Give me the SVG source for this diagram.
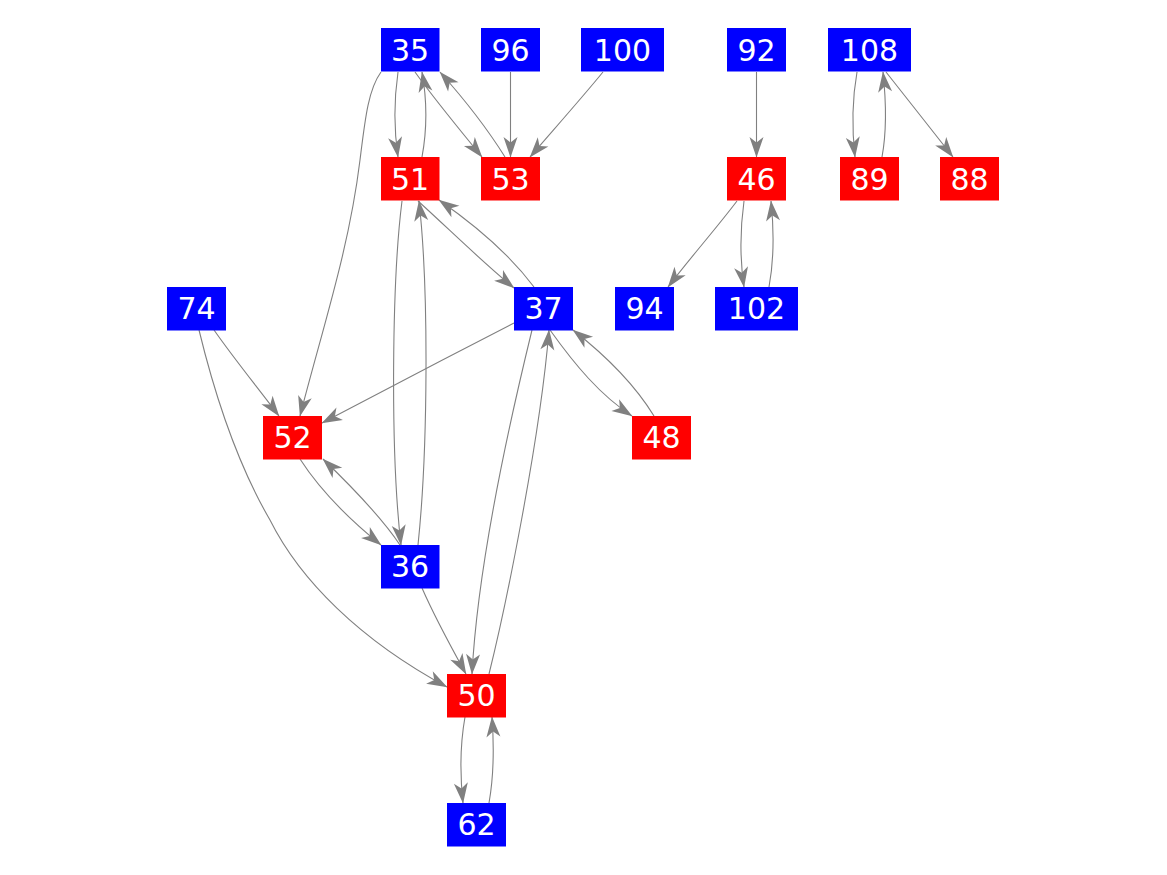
<svg xmlns="http://www.w3.org/2000/svg" width="1167" height="875" viewBox="0 0 1167 875">
<style>
.b{fill:#0000ff}
.r{fill:#ff0000}
text{fill:#ffffff;font-family:"DejaVu Sans","Liberation Sans",sans-serif;font-size:30px;text-anchor:middle}
.e path{fill:none;stroke:#808080;stroke-width:1.1;marker-end:url(#a)}
</style>
<defs>
<marker id="a" markerUnits="userSpaceOnUse" markerWidth="24" markerHeight="20" viewBox="-22 -10 24 20" refX="0" refY="0" orient="auto">
<path d="M0.5,0 L-20,-7 L-14.5,0 L-20,7 Z" fill="#808080"/>
</marker>
</defs>
<rect width="1167" height="875" fill="#ffffff"/>
<g class="e" id="edges">
<path d="M398,72 C394,100 394,130 398,157"/>
<path d="M422,157 C427,130 427,100 422,72"/>
<path d="M415,72 C435,100 460,130 482,157"/>
<path d="M505,157 C485,125 465,100 440,72"/>
<path d="M510.5,72 L510.5,157"/>
<path d="M603,72 C580,100 555,128 530,157"/>
<path d="M381,72 C368,90 365,120 360,160 C349,250 322,330 300,416"/>
<path d="M756.5,72 L756.5,157"/>
<path d="M857,72 C852,100 852,130 855,157"/>
<path d="M882,157 C887,130 886,100 883,72"/>
<path d="M886,72 C908,100 932,130 953,157"/>
<path d="M737,201 C715,230 690,258 668,287"/>
<path d="M744,201 C740,230 740,260 744,287"/>
<path d="M769,287 C774,260 774,230 771,201"/>
<path d="M418,201 C450,230 480,260 514,288"/>
<path d="M534,287 C510,255 475,225 439,200"/>
<path d="M402,201 C392,280 390,450 401,545"/>
<path d="M418,545 C428,450 429,290 419,201"/>
<path d="M514,323 C450,356 385,390 322,423"/>
<path d="M550,330 C575,365 600,395 632,416"/>
<path d="M654,416 C635,385 605,355 573,330"/>
<path d="M532,330 C510,420 478,560 472,674"/>
<path d="M489,674 C505,610 540,440 549,330"/>
<path d="M214,330 C235,360 258,388 279,416"/>
<path d="M199,330 C216,400 238,465 270,520 C300,580 360,640 447,687"/>
<path d="M300,459 C320,490 350,520 381,545"/>
<path d="M400,545 C380,515 350,485 323,459"/>
<path d="M422,588 C436,620 450,645 466,674"/>
<path d="M465,717 C460,745 460,775 463,803"/>
<path d="M489,803 C494,775 494,745 492,717"/>
</g>
<g id="n35"><rect class="b" x="381" y="28" width="58.5" height="43.5"/><text x="410" y="60.5">35</text></g>
<g id="n96"><rect class="b" x="481" y="28" width="59" height="43.5"/><text x="510.5" y="60.5">96</text></g>
<g id="n100"><rect class="b" x="581" y="28" width="83" height="43.5"/><text x="622.5" y="60.5">100</text></g>
<g id="n92"><rect class="b" x="727" y="28" width="59" height="43.5"/><text x="756.5" y="60.5">92</text></g>
<g id="n108"><rect class="b" x="828" y="28" width="83" height="43.5"/><text x="869.5" y="60.5">108</text></g>
<g id="n51"><rect class="r" x="381" y="157" width="58.5" height="43.5"/><text x="410" y="189.5">51</text></g>
<g id="n53"><rect class="r" x="481" y="157" width="59" height="43.5"/><text x="510.5" y="189.5">53</text></g>
<g id="n46"><rect class="r" x="727" y="157" width="59" height="43.5"/><text x="756.5" y="189.5">46</text></g>
<g id="n89"><rect class="r" x="840" y="157" width="59" height="43.5"/><text x="869.5" y="189.5">89</text></g>
<g id="n88"><rect class="r" x="940" y="157" width="59" height="43.5"/><text x="969.5" y="189.5">88</text></g>
<g id="n74"><rect class="b" x="167" y="287" width="59" height="43.5"/><text x="196.5" y="319">74</text></g>
<g id="n37"><rect class="b" x="514" y="287" width="59" height="43.5"/><text x="543.5" y="319">37</text></g>
<g id="n94"><rect class="b" x="615" y="287" width="59" height="43.5"/><text x="644.5" y="319">94</text></g>
<g id="n102"><rect class="b" x="715" y="287" width="83" height="43.5"/><text x="756.5" y="319">102</text></g>
<g id="n52"><rect class="r" x="263" y="416" width="59" height="43.5"/><text x="292.5" y="448">52</text></g>
<g id="n48"><rect class="r" x="632" y="416" width="59" height="43.5"/><text x="661.5" y="448">48</text></g>
<g id="n36"><rect class="b" x="381" y="545" width="58.5" height="43.5"/><text x="410" y="577">36</text></g>
<g id="n50"><rect class="r" x="447" y="674" width="59" height="43.5"/><text x="476.5" y="706">50</text></g>
<g id="n62"><rect class="b" x="447" y="803" width="59" height="43.5"/><text x="476.5" y="835">62</text></g>
</svg>
